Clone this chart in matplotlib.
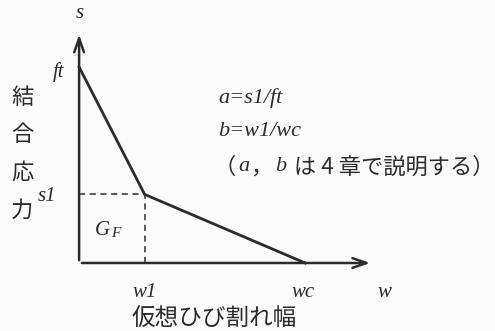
import matplotlib.pyplot as plt

# 引張軟化曲線（1/4モデル）: 横軸 w / wc, 縦軸 s / ft
w_pts = [0.0, 0.29, 1.0]
s_pts = [1.0, 0.35, 0.0]
w_labels = ['w1', 'wc']
s_labels = ['ft', 's1']
y_label = ['結', '合', '応', '力']
x_label = '仮想ひび割れ幅'
notes = ['a=s1/ft', 'b=w1/wc']
note_parts = [('（', 'jp'), ('a', 'it'), ('，', 'jp'), ('b', 'it'),
              (' は 4 章で説明する）', 'jp')]

ink = '#2b2b2b'
serif = ['Liberation Serif', 'DejaVu Serif']
jp = ['Noto Sans CJK JP', 'DejaVu Sans']

fig = plt.figure(figsize=(4.95, 3.31), dpi=100)
fig.patch.set_facecolor('#fbfbfb')
ax = fig.add_axes([0, 0, 1, 1])
ax.set_xlim(-0.35, 1.84)
ax.set_ylim(-0.347, 1.342)
ax.axis('off')

# axes with open arrow heads
ax.annotate('', xy=(1.30, 0), xytext=(0, 0),
            arrowprops=dict(arrowstyle='->,head_length=1.0,head_width=0.35', color=ink, lw=1.8))
ax.annotate('', xy=(0, 1.18), xytext=(0, 0),
            arrowprops=dict(arrowstyle='->,head_length=1.0,head_width=0.35', color=ink, lw=1.8))

# softening curve
ax.plot(w_pts, s_pts, color=ink, lw=2.0, solid_joinstyle='miter')

# guide lines at the kink
ax.plot([0, w_pts[1]], [s_pts[1], s_pts[1]], color=ink, lw=1.1, ls=(0, (4, 3)))
ax.plot([w_pts[1], w_pts[1]], [0, s_pts[1]], color=ink, lw=1.1, ls=(0, (4, 3)))

lab = dict(fontsize=15, family=serif, style='italic', ha='center', va='center', color=ink)
ax.text(w_pts[1], -0.148, w_labels[0], **lab)
ax.text(w_pts[2] - 0.01, -0.148, w_labels[1], **lab)
ax.text(1.35, -0.148, 'w', **lab)
ax.text(-0.093, s_pts[0] - 0.025, s_labels[0], **lab)
ax.text(-0.14, s_pts[1] - 0.013, s_labels[1], **lab)
ax.text(0.005, 1.275, 's', **lab)
ax.text(0.105, 0.168, 'G', **lab)
ax.text(0.163, 0.15, 'F', fontsize=11, family=serif, style='italic',
        ha='center', va='center', color=ink)

# vertical axis title
for i, ch in enumerate(y_label):
    ax.text(-0.252, 0.847 - i * 0.192, ch, fontsize=16, family=jp,
            ha='center', va='center', color=ink)

ax.text(0.60, -0.282, x_label, fontsize=17, family=jp,
        ha='center', va='center', color=ink)

# definitions
for i, t in enumerate(notes):
    ax.text(0.615, 0.84 - i * 0.168, t, fontsize=16, family=serif, style='italic',
            ha='left', va='center', color=ink)

prev = None
for txt, kind in note_parts:
    kw = dict(fontsize=16, family=serif, style='italic') if kind == 'it' else dict(fontsize=16, family=jp)
    if prev is None:
        prev = ax.text(0.595, 0.49, txt, ha='left', va='center', color=ink, **kw)
    else:
        prev = ax.annotate(txt, xy=(1, 0.5), xycoords=prev, xytext=(1.5, 0),
                           textcoords='offset points', ha='left', va='center', color=ink, **kw)

fig.savefig('out.png', dpi=100, facecolor=fig.get_facecolor())
